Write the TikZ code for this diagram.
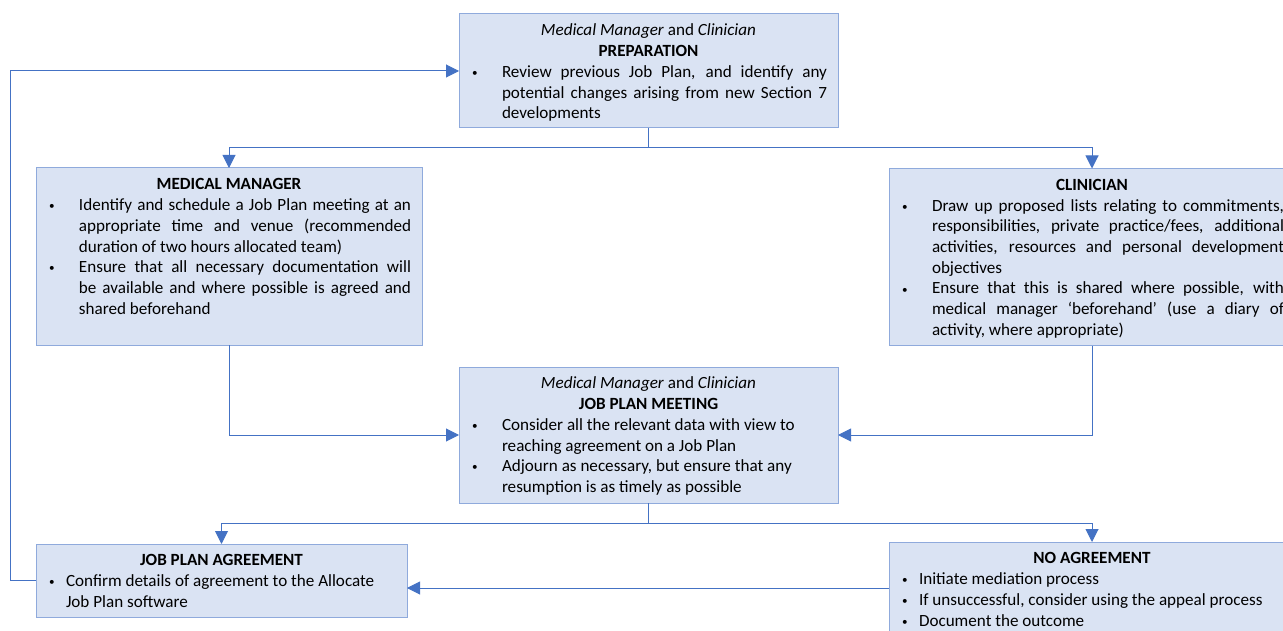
\documentclass[tikz,border=0pt]{standalone}
\usepackage{fontspec}
\setmainfont{Carlito}
\usepackage{tikz}
\usetikzlibrary{arrows.meta,positioning}
\definecolor{jpfill}{RGB}{218,227,243}
\definecolor{jpedge}{RGB}{143,170,220}
\definecolor{jpline}{RGB}{68,114,196}
\newcommand{\jpbody}[3]{\parbox[t][#2][t]{#1}{\fontsize{17.1pt}{20.7pt}\selectfont
  \parindent=0pt\parskip=0pt\hyphenpenalty=10000\vspace*{7.5pt}#3}}
\newcommand{\jphead}[1]{{\centering\strut#1\par}}
\newcommand{\jpdot}{\hspace{2.5pt}\raisebox{0.8pt}{\scalebox{0.65}{\textbullet}}}
\newcommand{\jpitem}[2]{\par\leftskip=10.5pt\rightskip=11pt\hangindent=#1\hangafter=1\noindent
  \makebox[#1][l]{\jpdot}#2\par}
\newcommand{\jpitemr}[2]{\par\leftskip=10.5pt\rightskip=11pt plus 1fil\hangindent=#1\hangafter=1\noindent
  \makebox[#1][l]{\jpdot}#2\par}
\tikzset{
  jpbox/.style={draw=jpedge, fill=jpfill, line width=1pt, inner sep=0pt, outer sep=0pt,
    anchor=north west},
  jparrow/.style={-{Triangle[length=13pt,width=13pt]}, line width=1pt, draw=jpline}
}
\begin{document}
\begin{tikzpicture}[x=1pt,y=-1pt]
  \useasboundingbox (0,0) rectangle (1283,631);
  \clip (0,0) rectangle (1283,631);
  \node[jpbox] (jpPrep) at (459,14) {\jpbody{379pt}{114pt}{%
    \jphead{\textit{Medical Manager} and \textit{Clinician}}
    \jphead{\textbf{PREPARATION}}
    \jpitem{32.5pt}{Review previous Job Plan, and identify any\linebreak potential changes arising from new Section 7\linebreak developments}}};
  \node[jpbox] (jpMan) at (36,168) {\jpbody{386pt}{177pt}{%
    \jphead{\textbf{MEDICAL MANAGER}}
    \jpitem{32.5pt}{Identify and schedule a Job Plan meeting at an\linebreak appropriate time and venue (recommended\linebreak duration of two hours allocated team)}
    \jpitem{32.5pt}{Ensure that all necessary documentation will\linebreak be available and where possible is agreed and\linebreak shared beforehand}}};
  \node[jpbox] (jpClin) at (889,168.5) {\jpbody{406pt}{177pt}{%
    \jphead{\textbf{CLINICIAN}}
    \jpitem{32.5pt}{Draw up proposed lists relating to commitments,\linebreak responsibilities, private practice/fees, additional\linebreak activities, resources and personal development\linebreak objectives}
    \jpitem{32.5pt}{Ensure that this is shared where possible, with\linebreak medical manager ‘beforehand’ (use a diary of\linebreak activity, where appropriate)}}};
  \node[jpbox] (jpMeet) at (459,367) {\jpbody{379pt}{136pt}{%
    \jphead{\textit{Medical Manager} and \textit{Clinician}}
    \jphead{\textbf{JOB PLAN MEETING}}
    \jpitemr{32.5pt}{Consider all the relevant data with view to\linebreak reaching agreement on a Job Plan}
    \jpitemr{32.5pt}{Adjourn as necessary, but ensure that any\linebreak resumption is as timely as possible}}};
  \node[jpbox] (jpAgr) at (36,544) {\jpbody{371pt}{73pt}{%
    \jphead{\textbf{JOB PLAN AGREEMENT}}
    \jpitemr{19.5pt}{Confirm details of agreement to the Allocate\linebreak Job Plan software}}};
  \node[jpbox] (jpNo) at (889,542) {\jpbody{406pt}{92pt}{%
    \jphead{\textbf{NO AGREEMENT}}
    \jpitemr{19.5pt}{Initiate mediation process}
    \jpitemr{19.5pt}{If unsuccessful, consider using the appeal process}
    \jpitemr{19.5pt}{Document the outcome}}};
  \draw[jparrow] (jpPrep.south) -- ++(0,20) -| (jpMan.north);
  \draw[jparrow] (jpPrep.south) -- ++(0,20) -| (jpClin.north);
  \draw[jparrow] (jpMan.south) |- (jpMeet.west);
  \draw[jparrow] (jpClin.south) |- (jpMeet.east);
  \draw[jparrow] (jpMeet.south) -- ++(0,20) -| (jpAgr.north);
  \draw[jparrow] (jpMeet.south) -- ++(0,20) -| (jpNo.north);
  \draw[jparrow] (jpNo.west) -- (jpNo.west -| jpAgr.east);
  \draw[jparrow] (jpAgr.west) -- ++(-26,0) |- (jpPrep.west);
\end{tikzpicture}
\end{document}
